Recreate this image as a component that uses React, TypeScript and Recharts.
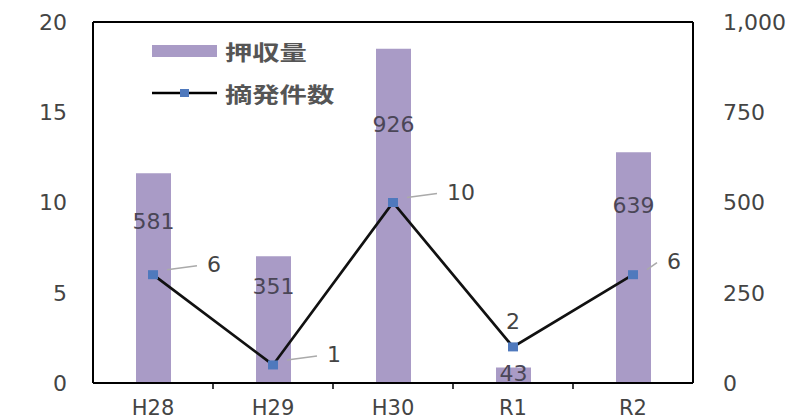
import { ComposedChart, Bar, Line, XAxis, YAxis, ReferenceLine, LabelList } from 'recharts';

// 年度, 押収量 (right axis), 摘発件数 (left axis)
const years = ['H28', 'H29', 'H30', 'R1', 'R2'];
const seizures = [581, 351, 926, 43, 639];
const cases = [6, 1, 10, 2, 6];
const leftTicks = [0, 5, 10, 15, 20];
const rightTicks = [0, 250, 500, 750, 1000];

const data = years.map((year, i) => ({ year, seizures: seizures[i], cases: cases[i] }));

const BAR_COLOR = '#a99bc6';
const MARK_COLOR = '#4f79bd';
const TEXT = '#444';
const NUM_FONT = '"DejaVu Sans", sans-serif';
const JP_FONT = '"Noto Sans CJK JP", sans-serif';

function CategoryTick(props: any) {
  const { x, y, payload, index } = props;
  return (
    <g>
      {index < years.length - 1 && <line x1={x + 60} x2={x + 60} y1={y - 8} y2={y - 2} stroke="#000" strokeWidth={1.5} />}
      <text x={x} y={y + 24} textAnchor="middle" fill={TEXT} fontSize={21} fontFamily={NUM_FONT}>
        {payload.value}
      </text>
    </g>
  );
}

function BarValueLabel(props: any) {
  const { x, y, width, height, value } = props;
  return (
    <text
      x={x + width / 2}
      y={y + height * 0.22 + 4}
      textAnchor="middle"
      dominantBaseline="middle"
      fill="#4a4656"
      fontSize={22}
      fontFamily={NUM_FONT}
    >
      {value}
    </text>
  );
}

function CaseLabel(props: any) {
  const { x, y, value, index } = props;
  if (index === 3) {
    return (
      <text x={x} y={y - 24} textAnchor="middle" dominantBaseline="middle" fill={TEXT} fontSize={22} fontFamily={NUM_FONT}>
        {value}
      </text>
    );
  }
  const last = index === years.length - 1;
  const gap = last ? 34 : 54;
  const rise = last ? 12 : 9;
  return (
    <g>
      <line x1={x + 14} x2={x + gap - 10} y1={y - 5} y2={y - rise} stroke="#aaa" strokeWidth={1.5} />
      <text x={x + gap} y={y - rise} dominantBaseline="middle" fill={TEXT} fontSize={22} fontFamily={NUM_FONT}>
        {value}
      </text>
    </g>
  );
}

function LegendBox() {
  const label = { marginLeft: 8, display: 'inline-block', transform: 'scaleX(1.3)', transformOrigin: 'left center' };
  return (
    <div
      style={{
        position: 'absolute',
        left: 152,
        top: 35,
        fontFamily: JP_FONT,
        fontSize: 21,
        color: '#555',
        fontWeight: 700,
        whiteSpace: 'nowrap',
      }}
    >
      <div style={{ display: 'flex', alignItems: 'center', height: 32 }}>
        <div style={{ width: 65, height: 12, background: BAR_COLOR }} />
        <span style={label}>押収量</span>
      </div>
      <div style={{ display: 'flex', alignItems: 'center', height: 32, marginTop: 10 }}>
        <svg width={65} height={12}>
          <line x1={0} x2={65} y1={6} y2={6} stroke="#000" strokeWidth={2.5} />
          <rect x={28} y={2} width={9} height={8} fill={MARK_COLOR} />
        </svg>
        <span style={label}>摘発件数</span>
      </div>
    </div>
  );
}

export default function App() {
  return (
    <div style={{ position: 'absolute', left: 0, top: 0, width: 788, height: 420, background: '#fff' }}>
      <ComposedChart width={788} height={420} data={data} margin={{ top: 22, right: 0, left: 0, bottom: 0 }}>
        <XAxis
          dataKey="year"
          height={37}
          axisLine={{ stroke: '#000', strokeWidth: 2 }}
          tickLine={false}
          tick={<CategoryTick />}
          interval={0}
        />
        <YAxis
          yAxisId="left"
          width={93}
          domain={[0, 20]}
          ticks={leftTicks}
          axisLine={{ stroke: '#000', strokeWidth: 2 }}
          tickLine={false}
          tickMargin={20}
          tick={{ fill: TEXT, fontSize: 22, fontFamily: NUM_FONT }}
        />
        <YAxis
          yAxisId="right"
          orientation="right"
          width={95}
          domain={[0, 1000]}
          ticks={rightTicks}
          tickFormatter={(v) => v.toLocaleString('en-US')}
          axisLine={{ stroke: '#000', strokeWidth: 2 }}
          tickLine={false}
          tickMargin={24}
          tick={{ fill: TEXT, fontSize: 22, fontFamily: NUM_FONT }}
        />
        <ReferenceLine yAxisId="left" y={20} stroke="#000" strokeWidth={2} />
        <Bar yAxisId="right" dataKey="seizures" name="押収量" fill={BAR_COLOR} barSize={35} isAnimationActive={false}>
          <LabelList dataKey="seizures" content={<BarValueLabel />} />
        </Bar>
        <Line
          yAxisId="left"
          dataKey="cases"
          name="摘発件数"
          stroke="#111"
          strokeWidth={2.7}
          dot={(p: any) => <rect key={`d-${p.index}`} x={p.cx - 5} y={p.cy - 4.5} width={10} height={9} fill={MARK_COLOR} />}
          isAnimationActive={false}
        >
          <LabelList dataKey="cases" content={<CaseLabel />} />
        </Line>
      </ComposedChart>
      <LegendBox />
    </div>
  );
}
